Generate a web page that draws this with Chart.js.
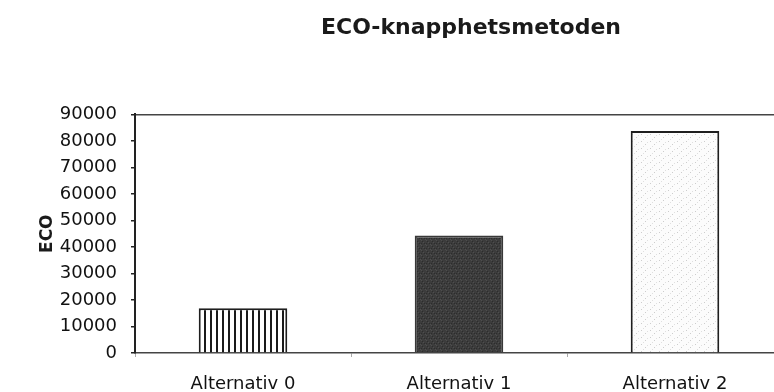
<!DOCTYPE html>
<html>
<head>
<meta charset="utf-8">
<title>ECO-knapphetsmetoden</title>
<script src="https://cdn.jsdelivr.net/npm/chart.js@4/dist/chart.umd.min.js"></script>
<style>
  html, body { margin: 0; padding: 0; background: #fff; overflow: hidden; }
  #wrap { width: 800px; height: 392px; }
</style>
</head>
<body>
<div id="wrap"><canvas id="chart" width="800" height="392"></canvas></div>
<script>
// Chart data
const categories = ['Alternativ 0', 'Alternativ 1', 'Alternativ 2'];
const ecoValues = [16900, 44300, 83700];
const yMin = 0;
const yMax = 90000;
const yStep = 10000;
const chartTitle = 'ECO-knapphetsmetoden';
const yAxisTitle = 'ECO';

// Fill textures for the three bars
function stripePattern() {
  const c = document.createElement('canvas');
  c.width = 6; c.height = 4;
  const g = c.getContext('2d');
  g.fillStyle = '#fff'; g.fillRect(0, 0, 6, 4);
  g.fillStyle = '#1a1a1a'; g.fillRect(0, 0, 2, 4);
  return g.createPattern(c, 'repeat');
}
function darkPattern() {
  const c = document.createElement('canvas');
  c.width = 5; c.height = 5;
  const g = c.getContext('2d');
  g.fillStyle = '#3c3c3c'; g.fillRect(0, 0, 5, 5);
  g.fillStyle = '#4e4e4e'; g.fillRect(1, 0, 1, 1); g.fillRect(3, 2, 1, 1); g.fillRect(0, 4, 1, 1);
  g.fillStyle = '#2c2c2c'; g.fillRect(4, 3, 1, 1); g.fillRect(2, 1, 1, 1); g.fillRect(1, 3, 1, 1);
  return g.createPattern(c, 'repeat');
}
function speckPattern() {
  const c = document.createElement('canvas');
  c.width = 9; c.height = 7;
  const g = c.getContext('2d');
  g.fillStyle = '#fcfcfc'; g.fillRect(0, 0, 9, 7);
  g.fillStyle = '#cdcdcd'; g.fillRect(2, 1, 1, 1); g.fillRect(6, 4, 1, 1);
  g.fillStyle = '#e0e0e0'; g.fillRect(4, 6, 1, 1); g.fillRect(8, 2, 1, 1);
  return g.createPattern(c, 'repeat');
}

// Centre the title over the plot rather than the whole canvas
const titleShift = {
  id: 'titleShift',
  afterLayout(chart) {
    const t = chart.titleBlock;
    if (!t) return;
    const mid = (chart.chartArea.left + chart.chartArea.right) / 2 + 12;
    const half = (t.right - t.left) / 2;
    t.left = mid - half;
    t.right = mid + half;
  }
};

Chart.defaults.font.family = "'DejaVu Sans', sans-serif";
Chart.defaults.color = '#111';

new Chart(document.getElementById('chart'), {
  type: 'bar',
  data: {
    labels: categories,
    datasets: [{
      data: ecoValues,
      backgroundColor: [stripePattern(), darkPattern(), speckPattern()],
      borderColor: ['#1e1e1e', '#383838', '#1e1e1e'],
      borderWidth: 2,
      barPercentage: 0.41,
      categoryPercentage: 1
    }]
  },
  plugins: [titleShift],
  options: {
    responsive: false,
    animation: false,
    layout: { padding: { left: 0, right: 17, top: 0, bottom: 0 } },
    plugins: {
      legend: { display: false },
      tooltip: { enabled: false },
      title: {
        display: true,
        text: chartTitle,
        font: { size: 22, weight: 'bold' },
        color: '#1a1a1a',
        padding: { top: 15, bottom: 73 }
      }
    },
    scales: {
      x: {
        afterFit: s => { s.height = 39; },
        border: { display: true, color: '#444', width: 1.5 },
        grid: { display: true, drawOnChartArea: false, tickLength: 4, color: '#aaa', offset: true },
        ticks: { font: { size: 18 }, color: '#111', padding: 17 }
      },
      y: {
        min: yMin,
        max: yMax,
        afterFit: s => { s.width = 135; },
        border: { display: true, color: '#222', width: 2 },
        grid: {
          drawOnChartArea: true,
          color: ctx => (ctx.tick && ctx.tick.value === yMax) ? '#444' : 'rgba(0,0,0,0)',
          tickColor: '#222',
          tickLength: 4,
          lineWidth: 1.5
        },
        ticks: {
          stepSize: yStep,
          font: { size: 18 },
          color: '#111',
          padding: 14,
          callback: v => String(v)
        },
        title: {
          display: true,
          text: yAxisTitle,
          font: { size: 17, weight: 'bold' },
          color: '#1a1a1a',
          padding: { top: 37, bottom: 0 }
        }
      }
    }
  }
});
</script>
</body>
</html>
